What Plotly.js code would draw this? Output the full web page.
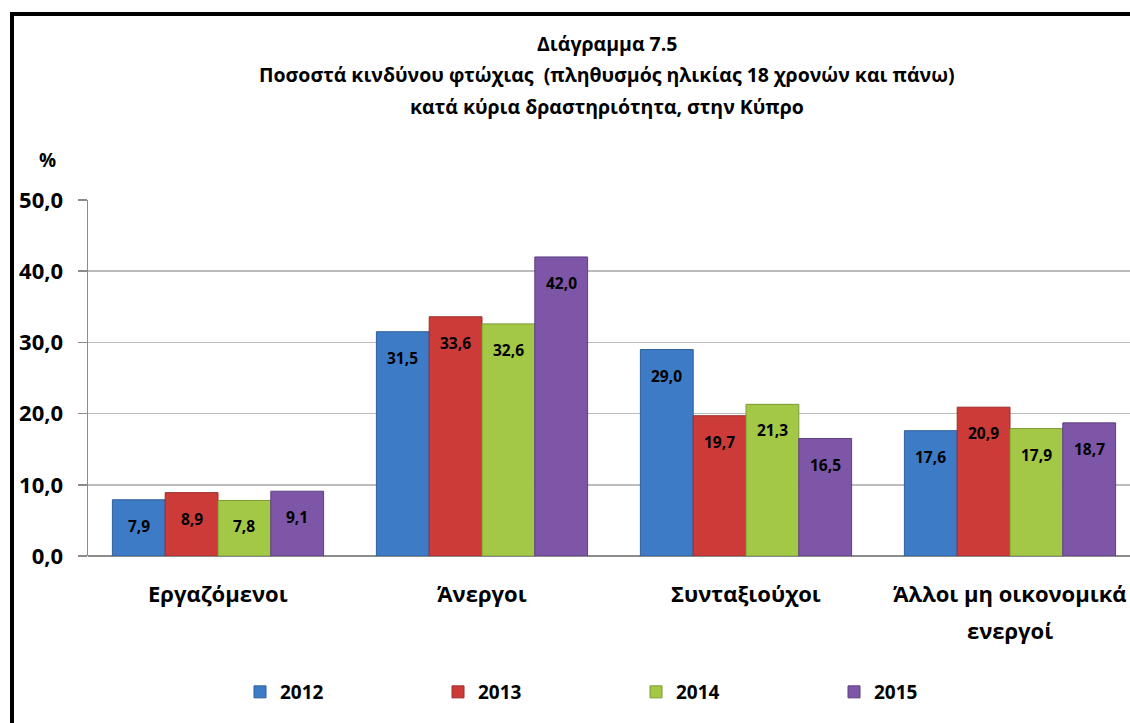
<!DOCTYPE html>
<html>
<head>
<meta charset="utf-8">
<script src="https://cdn.plot.ly/plotly-3.0.1.min.js"></script>
<style>
html,body{margin:0;padding:0;background:#fff;overflow:hidden;}
#chart{width:1130px;height:723px;position:absolute;left:0;top:0;}
#frame{position:absolute;left:10px;top:12px;width:1300px;height:900px;border:4px solid #000;pointer-events:none;}
</style>
</head>
<body>
<div id="chart"></div>
<div id="frame"></div>
<script>
const categories = ["Εργαζόμενοι", "Άνεργοι", "Συνταξιούχοι", "Άλλοι μη οικονομικά\nενεργοί"];
const years = ["2012", "2013", "2014", "2015"];
const v2012 = [7.9, 31.5, 29.0, 17.6];
const v2013 = [8.9, 33.6, 19.7, 20.9];
const v2014 = [7.8, 32.6, 21.3, 17.9];
const v2015 = [9.1, 42.0, 16.5, 18.7];
const titleLines = ["Διάγραμμα 7.5", "Ποσοστά κινδύνου φτώχιας  (πληθυσμός ηλικίας 18 χρονών και πάνω)", "κατά κύρια δραστηριότητα, στην Κύπρο"];
const yTicks = [0, 10, 20, 30, 40, 50];

const series = [v2012, v2013, v2014, v2015];
const colors = ["#3e7bc6", "#cc3b38", "#a2c846", "#7d56a8"];
const lines = ["#2f5f9a", "#9c2c2a", "#7c9a34", "#5e3f82"];
const FONT = "Open Sans, Lato, sans-serif";

const fmt = v => v.toFixed(1).replace('.', ',');
const xIdx = categories.map((c, i) => i);

const traces = series.map((vals, k) => ({
  type: 'bar',
  name: years[k],
  x: xIdx,
  y: vals,
  marker: {color: colors[k], line: {color: lines[k], width: 1}},
  hoverinfo: 'skip'
}));

const L = 88, T = 200, B = 167, W = 1130, H = 723;
const plotW = W - L;
const plotH = H - T - B;
const catPx = 264;
const firstCenterPx = 218;
const xmin = -(firstCenterPx - L) / catPx;
const xmax = xmin + plotW / catPx;
const bargap = 0.2;
const barPx = catPx * (1 - bargap) / 4;

const annotations = [];
// data labels
series.forEach((vals, k) => {
  vals.forEach((v, i) => {
    annotations.push({
      x: i, y: v, xref: 'x', yref: 'y',
      text: fmt(v), showarrow: false,
      xshift: (k - 1.5) * barPx, yshift: -26,
      font: {family: FONT, size: 15.5, color: '#000', weight: 'bold'}
    });
  });
});
// category labels
categories.forEach((c, i) => {
  c.split('\n').forEach((ln, j) => {
    annotations.push({
      x: i, xref: 'x', y: 0, yref: 'paper', yanchor: 'middle',
      yshift: -37 - j * 37,
      text: ln, showarrow: false,
      font: {family: FONT, size: 22, color: '#000', weight: 'bold'}
    });
  });
});
// title
const titleY = [43, 75, 107];
titleLines.forEach((t, j) => {
  annotations.push({
    xref: 'paper', yref: 'paper',
    x: (607 - L) / plotW, y: (H - B - titleY[j]) / plotH,
    xanchor: 'center', yanchor: 'middle',
    text: t, showarrow: false,
    font: {family: FONT, size: 19.5, color: '#000', weight: 'bold'}
  });
});
// percent label
annotations.push({
  xref: 'paper', yref: 'paper',
  x: (47 - L) / plotW, y: (H - B - 160) / plotH,
  xanchor: 'center', yanchor: 'middle',
  text: '%', showarrow: false,
  font: {family: FONT, size: 19, color: '#000', weight: 'bold'}
});

const layout = {
  width: W, height: H,
  margin: {l: L, r: 0, t: T, b: B, pad: 0},
  paper_bgcolor: '#fff', plot_bgcolor: '#fff',
  separators: ', ',
  barmode: 'group', bargap: bargap, bargroupgap: 0,
  showlegend: true,
  legend: {
    orientation: 'h', x: (240 - L) / plotW, xanchor: 'left',
    y: (H - B - 692) / plotH, yanchor: 'middle',
    entrywidth: 153, entrywidthmode: 'pixels',
    font: {family: FONT, size: 19, color: '#000', weight: 'bold'},
    itemwidth: 30, tracegroupgap: 0
  },
  xaxis: {
    range: [xmin, xmax], showticklabels: false, showgrid: false,
    zeroline: false, showline: false, ticks: '', fixedrange: true
  },
  yaxis: {
    range: [0, 50], tickvals: yTicks, tickformat: '.1f',
    showgrid: true, gridcolor: '#bcbcbc', gridwidth: 1.5,
    showline: true, linecolor: '#8c8c8c', linewidth: 1.5,
    zeroline: true, zerolinecolor: '#8c8c8c', zerolinewidth: 1.5,
    ticks: 'outside', ticklen: 9, tickcolor: '#8c8c8c', tickwidth: 1.5,
    ticklabelstandoff: 10,
    tickfont: {family: FONT, size: 22, color: '#000', weight: 'bold'},
    fixedrange: true
  },
  annotations: annotations
};

Plotly.newPlot('chart', traces, layout, {displayModeBar: false, staticPlot: true});
</script>
</body>
</html>
